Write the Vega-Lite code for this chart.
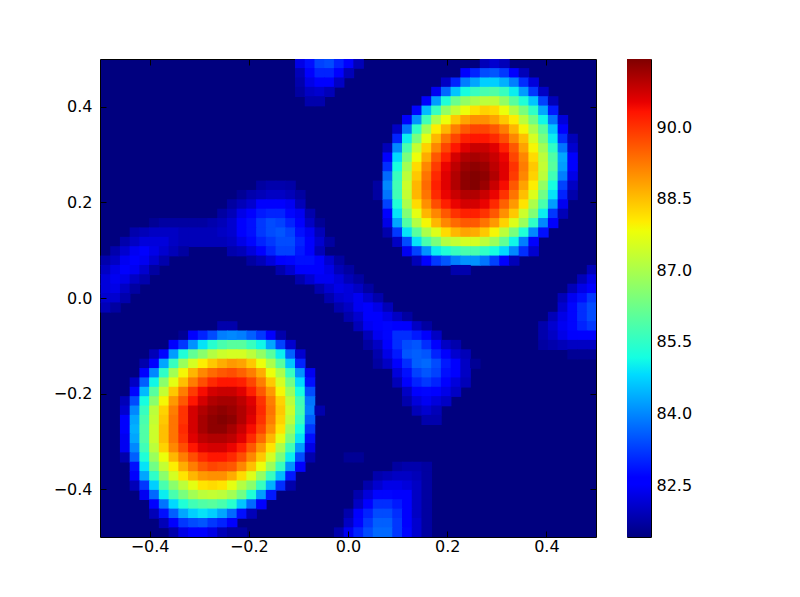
{
  "$schema": "https://vega.github.io/schema/vega-lite/v6.json",
  "padding": {"left": 52, "top": 58, "right": 10, "bottom": 10},
  "background": "white",
  "config": {
    "font": "DejaVu Sans",
    "axis": {"grid": false, "domain": false, "tickColor": "black", "tickWidth": 1, "labelColor": "black", "labelFontSize": 16, "labelFont": "DejaVu Sans", "title": null}
  },
  "spacing": 29,
  "hconcat": [
    {
      "width": 496,
      "height": 478,
      "view": {"fill": "#00007f", "stroke": "black", "strokeWidth": 1},
      "data": {"values": [
{"x":-0.1078,"y":0.4804,"v":82.3},{"x":-0.0882,"y":0.4804,"v":82.8},{"x":-0.0686,"y":0.4804,"v":83.3},{"x":-0.049,"y":0.4804,"v":83.4},{"x":-0.0294,"y":0.4804,"v":83},{"x":-0.0098,"y":0.4804,"v":82.5},{"x":0.0098,"y":0.4804,"v":81.9},{"x":0.2647,"y":0.4804,"v":81.9},{"x":0.2843,"y":0.4804,"v":82.1},{"x":0.3039,"y":0.4804,"v":81.9},
{"x":-0.1078,"y":0.4608,"v":81.9},{"x":-0.0882,"y":0.4608,"v":82.5},{"x":-0.0686,"y":0.4608,"v":83},{"x":-0.049,"y":0.4608,"v":83},{"x":-0.0294,"y":0.4608,"v":82.6},{"x":-0.0098,"y":0.4608,"v":81.9},{"x":0.2255,"y":0.4608,"v":82.5},{"x":0.2451,"y":0.4608,"v":83},{"x":0.2647,"y":0.4608,"v":83.4},{"x":0.2843,"y":0.4608,"v":83.5},{"x":0.3039,"y":0.4608,"v":83.2},{"x":0.3235,"y":0.4608,"v":82.5},{"x":0.3431,"y":0.4608,"v":81.9},
{"x":-0.1078,"y":0.4412,"v":81.8},{"x":-0.0882,"y":0.4412,"v":82.3},{"x":-0.0686,"y":0.4412,"v":82.6},{"x":-0.049,"y":0.4412,"v":82.6},{"x":-0.0294,"y":0.4412,"v":82},{"x":0.1863,"y":0.4412,"v":82},{"x":0.2059,"y":0.4412,"v":83},{"x":0.2255,"y":0.4412,"v":83.9},{"x":0.2451,"y":0.4412,"v":84.3},{"x":0.2647,"y":0.4412,"v":84.7},{"x":0.2843,"y":0.4412,"v":84.7},{"x":0.3039,"y":0.4412,"v":84.4},{"x":0.3235,"y":0.4412,"v":83.9},{"x":0.3431,"y":0.4412,"v":83.1},{"x":0.3627,"y":0.4412,"v":82.2},
{"x":-0.1078,"y":0.4216,"v":81.7},{"x":-0.0882,"y":0.4216,"v":82},{"x":-0.0686,"y":0.4216,"v":82.1},{"x":-0.049,"y":0.4216,"v":81.9},{"x":0.1667,"y":0.4216,"v":82.4},{"x":0.1863,"y":0.4216,"v":83.7},{"x":0.2059,"y":0.4216,"v":84.6},{"x":0.2255,"y":0.4216,"v":85.2},{"x":0.2451,"y":0.4216,"v":85.6},{"x":0.2647,"y":0.4216,"v":85.8},{"x":0.2843,"y":0.4216,"v":85.9},{"x":0.3039,"y":0.4216,"v":85.6},{"x":0.3235,"y":0.4216,"v":85},{"x":0.3431,"y":0.4216,"v":84.2},{"x":0.3627,"y":0.4216,"v":83.2},{"x":0.3824,"y":0.4216,"v":82},
{"x":-0.0882,"y":0.402,"v":81.8},{"x":-0.0686,"y":0.402,"v":81.8},{"x":0.1471,"y":0.402,"v":82.5},{"x":0.1667,"y":0.402,"v":84.2},{"x":0.1863,"y":0.402,"v":85.3},{"x":0.2059,"y":0.402,"v":86.2},{"x":0.2255,"y":0.402,"v":86.7},{"x":0.2451,"y":0.402,"v":87},{"x":0.2647,"y":0.402,"v":87.2},{"x":0.2843,"y":0.402,"v":87.2},{"x":0.3039,"y":0.402,"v":86.7},{"x":0.3235,"y":0.402,"v":86},{"x":0.3431,"y":0.402,"v":85.3},{"x":0.3627,"y":0.402,"v":84.6},{"x":0.3824,"y":0.402,"v":83.3},{"x":0.402,"y":0.402,"v":81.9},
{"x":0.1275,"y":0.3824,"v":82.7},{"x":0.1471,"y":0.3824,"v":84.5},{"x":0.1667,"y":0.3824,"v":85.6},{"x":0.1863,"y":0.3824,"v":86.7},{"x":0.2059,"y":0.3824,"v":87.3},{"x":0.2255,"y":0.3824,"v":87.8},{"x":0.2451,"y":0.3824,"v":88.1},{"x":0.2647,"y":0.3824,"v":88.3},{"x":0.2843,"y":0.3824,"v":88.2},{"x":0.3039,"y":0.3824,"v":87.8},{"x":0.3235,"y":0.3824,"v":87.1},{"x":0.3431,"y":0.3824,"v":86.4},{"x":0.3627,"y":0.3824,"v":85.5},{"x":0.3824,"y":0.3824,"v":84.3},{"x":0.402,"y":0.3824,"v":82.9},
{"x":0.1078,"y":0.3627,"v":82.5},{"x":0.1275,"y":0.3627,"v":84.1},{"x":0.1471,"y":0.3627,"v":85.7},{"x":0.1667,"y":0.3627,"v":87},{"x":0.1863,"y":0.3627,"v":87.8},{"x":0.2059,"y":0.3627,"v":88.4},{"x":0.2255,"y":0.3627,"v":88.8},{"x":0.2451,"y":0.3627,"v":89},{"x":0.2647,"y":0.3627,"v":89},{"x":0.2843,"y":0.3627,"v":88.8},{"x":0.3039,"y":0.3627,"v":88.4},{"x":0.3235,"y":0.3627,"v":88},{"x":0.3431,"y":0.3627,"v":87.2},{"x":0.3627,"y":0.3627,"v":86.3},{"x":0.3824,"y":0.3627,"v":85.1},{"x":0.402,"y":0.3627,"v":83.8},{"x":0.4216,"y":0.3627,"v":82.2},
{"x":0.0882,"y":0.3431,"v":82},{"x":0.1078,"y":0.3431,"v":83.8},{"x":0.1275,"y":0.3431,"v":85.5},{"x":0.1471,"y":0.3431,"v":86.9},{"x":0.1667,"y":0.3431,"v":88},{"x":0.1863,"y":0.3431,"v":88.6},{"x":0.2059,"y":0.3431,"v":89.2},{"x":0.2255,"y":0.3431,"v":89.6},{"x":0.2451,"y":0.3431,"v":89.8},{"x":0.2647,"y":0.3431,"v":89.8},{"x":0.2843,"y":0.3431,"v":89.6},{"x":0.3039,"y":0.3431,"v":89.2},{"x":0.3235,"y":0.3431,"v":88.6},{"x":0.3431,"y":0.3431,"v":87.9},{"x":0.3627,"y":0.3431,"v":87},{"x":0.3824,"y":0.3431,"v":86},{"x":0.402,"y":0.3431,"v":84.6},{"x":0.4216,"y":0.3431,"v":82.6},
{"x":0.0882,"y":0.3235,"v":83},{"x":0.1078,"y":0.3235,"v":85},{"x":0.1275,"y":0.3235,"v":86.4},{"x":0.1471,"y":0.3235,"v":87.7},{"x":0.1667,"y":0.3235,"v":88.6},{"x":0.1863,"y":0.3235,"v":89.3},{"x":0.2059,"y":0.3235,"v":89.8},{"x":0.2255,"y":0.3235,"v":90.2},{"x":0.2451,"y":0.3235,"v":90.3},{"x":0.2647,"y":0.3235,"v":90.3},{"x":0.2843,"y":0.3235,"v":90.1},{"x":0.3039,"y":0.3235,"v":89.7},{"x":0.3235,"y":0.3235,"v":89.1},{"x":0.3431,"y":0.3235,"v":88.5},{"x":0.3627,"y":0.3235,"v":87.5},{"x":0.3824,"y":0.3235,"v":86.4},{"x":0.402,"y":0.3235,"v":85},{"x":0.4216,"y":0.3235,"v":83.1},{"x":0.4412,"y":0.3235,"v":81.9},
{"x":0.0686,"y":0.3039,"v":81.9},{"x":0.0882,"y":0.3039,"v":84},{"x":0.1078,"y":0.3039,"v":85.8},{"x":0.1275,"y":0.3039,"v":87.3},{"x":0.1471,"y":0.3039,"v":88.3},{"x":0.1667,"y":0.3039,"v":89.1},{"x":0.1863,"y":0.3039,"v":89.8},{"x":0.2059,"y":0.3039,"v":90.3},{"x":0.2255,"y":0.3039,"v":90.6},{"x":0.2451,"y":0.3039,"v":90.8},{"x":0.2647,"y":0.3039,"v":90.8},{"x":0.2843,"y":0.3039,"v":90.6},{"x":0.3039,"y":0.3039,"v":90.2},{"x":0.3235,"y":0.3039,"v":89.6},{"x":0.3431,"y":0.3039,"v":88.8},{"x":0.3627,"y":0.3039,"v":87.9},{"x":0.3824,"y":0.3039,"v":86.9},{"x":0.402,"y":0.3039,"v":85.5},{"x":0.4216,"y":0.3039,"v":83.8},{"x":0.4412,"y":0.3039,"v":82.1},
{"x":0.0686,"y":0.2843,"v":82.5},{"x":0.0882,"y":0.2843,"v":84.8},{"x":0.1078,"y":0.2843,"v":86.4},{"x":0.1275,"y":0.2843,"v":87.8},{"x":0.1471,"y":0.2843,"v":88.7},{"x":0.1667,"y":0.2843,"v":89.6},{"x":0.1863,"y":0.2843,"v":90.2},{"x":0.2059,"y":0.2843,"v":90.7},{"x":0.2255,"y":0.2843,"v":91},{"x":0.2451,"y":0.2843,"v":91.1},{"x":0.2647,"y":0.2843,"v":91},{"x":0.2843,"y":0.2843,"v":90.8},{"x":0.3039,"y":0.2843,"v":90.5},{"x":0.3235,"y":0.2843,"v":89.8},{"x":0.3431,"y":0.2843,"v":89.1},{"x":0.3627,"y":0.2843,"v":88.2},{"x":0.3824,"y":0.2843,"v":87.2},{"x":0.402,"y":0.2843,"v":85.9},{"x":0.4216,"y":0.2843,"v":84.3},{"x":0.4412,"y":0.2843,"v":82.5},
{"x":0.0686,"y":0.2647,"v":83.1},{"x":0.0882,"y":0.2647,"v":85.2},{"x":0.1078,"y":0.2647,"v":86.9},{"x":0.1275,"y":0.2647,"v":88.2},{"x":0.1471,"y":0.2647,"v":89.1},{"x":0.1667,"y":0.2647,"v":89.9},{"x":0.1863,"y":0.2647,"v":90.5},{"x":0.2059,"y":0.2647,"v":90.9},{"x":0.2255,"y":0.2647,"v":91.2},{"x":0.2451,"y":0.2647,"v":91.3},{"x":0.2647,"y":0.2647,"v":91.2},{"x":0.2843,"y":0.2647,"v":90.9},{"x":0.3039,"y":0.2647,"v":90.6},{"x":0.3235,"y":0.2647,"v":90},{"x":0.3431,"y":0.2647,"v":89.2},{"x":0.3627,"y":0.2647,"v":88.4},{"x":0.3824,"y":0.2647,"v":87.3},{"x":0.402,"y":0.2647,"v":86},{"x":0.4216,"y":0.2647,"v":84.2},{"x":0.4412,"y":0.2647,"v":82.5},
{"x":0.0686,"y":0.2451,"v":83.7},{"x":0.0882,"y":0.2451,"v":85.6},{"x":0.1078,"y":0.2451,"v":87.2},{"x":0.1275,"y":0.2451,"v":88.4},{"x":0.1471,"y":0.2451,"v":89.3},{"x":0.1667,"y":0.2451,"v":90.1},{"x":0.1863,"y":0.2451,"v":90.6},{"x":0.2059,"y":0.2451,"v":91},{"x":0.2255,"y":0.2451,"v":91.3},{"x":0.2451,"y":0.2451,"v":91.4},{"x":0.2647,"y":0.2451,"v":91.3},{"x":0.2843,"y":0.2451,"v":91},{"x":0.3039,"y":0.2451,"v":90.6},{"x":0.3235,"y":0.2451,"v":89.9},{"x":0.3431,"y":0.2451,"v":89.1},{"x":0.3627,"y":0.2451,"v":88.3},{"x":0.3824,"y":0.2451,"v":87.2},{"x":0.402,"y":0.2451,"v":85.7},{"x":0.4216,"y":0.2451,"v":83.9},{"x":0.4412,"y":0.2451,"v":82.3},
{"x":0.049,"y":0.2255,"v":81.7},{"x":0.0686,"y":0.2255,"v":84},{"x":0.0882,"y":0.2255,"v":85.7},{"x":0.1078,"y":0.2255,"v":87.4},{"x":0.1275,"y":0.2255,"v":88.6},{"x":0.1471,"y":0.2255,"v":89.4},{"x":0.1667,"y":0.2255,"v":90.2},{"x":0.1863,"y":0.2255,"v":90.6},{"x":0.2059,"y":0.2255,"v":91},{"x":0.2255,"y":0.2255,"v":91.3},{"x":0.2451,"y":0.2255,"v":91.4},{"x":0.2647,"y":0.2255,"v":91.2},{"x":0.2843,"y":0.2255,"v":90.8},{"x":0.3039,"y":0.2255,"v":90.4},{"x":0.3235,"y":0.2255,"v":89.6},{"x":0.3431,"y":0.2255,"v":88.8},{"x":0.3627,"y":0.2255,"v":88},{"x":0.3824,"y":0.2255,"v":86.7},{"x":0.402,"y":0.2255,"v":85.2},{"x":0.4216,"y":0.2255,"v":83.3},{"x":0.4412,"y":0.2255,"v":82},
{"x":0.049,"y":0.2059,"v":81.7},{"x":0.0686,"y":0.2059,"v":83.8},{"x":0.0882,"y":0.2059,"v":85.7},{"x":0.1078,"y":0.2059,"v":87.3},{"x":0.1275,"y":0.2059,"v":88.6},{"x":0.1471,"y":0.2059,"v":89.3},{"x":0.1667,"y":0.2059,"v":90.1},{"x":0.1863,"y":0.2059,"v":90.5},{"x":0.2059,"y":0.2059,"v":90.8},{"x":0.2255,"y":0.2059,"v":91},{"x":0.2451,"y":0.2059,"v":91},{"x":0.2647,"y":0.2059,"v":90.8},{"x":0.2843,"y":0.2059,"v":90.5},{"x":0.3039,"y":0.2059,"v":90},{"x":0.3235,"y":0.2059,"v":89.3},{"x":0.3431,"y":0.2059,"v":88.5},{"x":0.3627,"y":0.2059,"v":87.6},{"x":0.3824,"y":0.2059,"v":86.3},{"x":0.402,"y":0.2059,"v":84.9},{"x":0.4216,"y":0.2059,"v":83},{"x":0.4412,"y":0.2059,"v":81.8},
{"x":0.0686,"y":0.1863,"v":83.3},{"x":0.0882,"y":0.1863,"v":85.3},{"x":0.1078,"y":0.1863,"v":87},{"x":0.1275,"y":0.1863,"v":88.2},{"x":0.1471,"y":0.1863,"v":89},{"x":0.1667,"y":0.1863,"v":89.7},{"x":0.1863,"y":0.1863,"v":90.2},{"x":0.2059,"y":0.1863,"v":90.5},{"x":0.2255,"y":0.1863,"v":90.7},{"x":0.2451,"y":0.1863,"v":90.7},{"x":0.2647,"y":0.1863,"v":90.5},{"x":0.2843,"y":0.1863,"v":90.1},{"x":0.3039,"y":0.1863,"v":89.5},{"x":0.3235,"y":0.1863,"v":88.9},{"x":0.3431,"y":0.1863,"v":88.1},{"x":0.3627,"y":0.1863,"v":87},{"x":0.3824,"y":0.1863,"v":85.8},{"x":0.402,"y":0.1863,"v":84.2},{"x":0.4216,"y":0.1863,"v":82.4},
{"x":0.0686,"y":0.1667,"v":82.6},{"x":0.0882,"y":0.1667,"v":84.9},{"x":0.1078,"y":0.1667,"v":86.5},{"x":0.1275,"y":0.1667,"v":87.7},{"x":0.1471,"y":0.1667,"v":88.6},{"x":0.1667,"y":0.1667,"v":89.1},{"x":0.1863,"y":0.1667,"v":89.6},{"x":0.2059,"y":0.1667,"v":90},{"x":0.2255,"y":0.1667,"v":90.2},{"x":0.2451,"y":0.1667,"v":90.2},{"x":0.2647,"y":0.1667,"v":90},{"x":0.2843,"y":0.1667,"v":89.6},{"x":0.3039,"y":0.1667,"v":89},{"x":0.3235,"y":0.1667,"v":88.4},{"x":0.3431,"y":0.1667,"v":87.4},{"x":0.3627,"y":0.1667,"v":86.5},{"x":0.3824,"y":0.1667,"v":85},{"x":0.402,"y":0.1667,"v":83.2},{"x":0.4216,"y":0.1667,"v":81.9},
{"x":0.0686,"y":0.1471,"v":82.3},{"x":0.0882,"y":0.1471,"v":84.3},{"x":0.1078,"y":0.1471,"v":85.9},{"x":0.1275,"y":0.1471,"v":87.1},{"x":0.1471,"y":0.1471,"v":87.9},{"x":0.1667,"y":0.1471,"v":88.6},{"x":0.1863,"y":0.1471,"v":89.1},{"x":0.2059,"y":0.1471,"v":89.4},{"x":0.2255,"y":0.1471,"v":89.6},{"x":0.2451,"y":0.1471,"v":89.6},{"x":0.2647,"y":0.1471,"v":89.3},{"x":0.2843,"y":0.1471,"v":88.9},{"x":0.3039,"y":0.1471,"v":88.3},{"x":0.3235,"y":0.1471,"v":87.6},{"x":0.3431,"y":0.1471,"v":86.8},{"x":0.3627,"y":0.1471,"v":85.5},{"x":0.3824,"y":0.1471,"v":84},{"x":0.402,"y":0.1471,"v":82.5},
{"x":0.0686,"y":0.1275,"v":81.8},{"x":0.0882,"y":0.1275,"v":83.2},{"x":0.1078,"y":0.1275,"v":84.9},{"x":0.1275,"y":0.1275,"v":86},{"x":0.1471,"y":0.1275,"v":87},{"x":0.1667,"y":0.1275,"v":87.6},{"x":0.1863,"y":0.1275,"v":88.2},{"x":0.2059,"y":0.1275,"v":88.6},{"x":0.2255,"y":0.1275,"v":88.8},{"x":0.2451,"y":0.1275,"v":88.7},{"x":0.2647,"y":0.1275,"v":88.4},{"x":0.2843,"y":0.1275,"v":87.9},{"x":0.3039,"y":0.1275,"v":87.2},{"x":0.3235,"y":0.1275,"v":86.4},{"x":0.3431,"y":0.1275,"v":85.3},{"x":0.3627,"y":0.1275,"v":84},{"x":0.3824,"y":0.1275,"v":82.8},
{"x":0.0882,"y":0.1078,"v":82},{"x":0.1078,"y":0.1078,"v":83.4},{"x":0.1275,"y":0.1078,"v":84.9},{"x":0.1471,"y":0.1078,"v":85.8},{"x":0.1667,"y":0.1078,"v":86.4},{"x":0.1863,"y":0.1078,"v":87.1},{"x":0.2059,"y":0.1078,"v":87.3},{"x":0.2255,"y":0.1078,"v":87.5},{"x":0.2451,"y":0.1078,"v":87.5},{"x":0.2647,"y":0.1078,"v":87.2},{"x":0.2843,"y":0.1078,"v":86.8},{"x":0.3039,"y":0.1078,"v":86.1},{"x":0.3235,"y":0.1078,"v":85.1},{"x":0.3431,"y":0.1078,"v":83.9},{"x":0.3627,"y":0.1078,"v":82.6},
{"x":0.1078,"y":0.0882,"v":82.4},{"x":0.1275,"y":0.0882,"v":83.3},{"x":0.1471,"y":0.0882,"v":84.1},{"x":0.1667,"y":0.0882,"v":85},{"x":0.1863,"y":0.0882,"v":85.3},{"x":0.2059,"y":0.0882,"v":85.6},{"x":0.2255,"y":0.0882,"v":85.8},{"x":0.2451,"y":0.0882,"v":85.8},{"x":0.2647,"y":0.0882,"v":85.5},{"x":0.2843,"y":0.0882,"v":85.2},{"x":0.3039,"y":0.0882,"v":84.8},{"x":0.3235,"y":0.0882,"v":84},{"x":0.3431,"y":0.0882,"v":83.1},{"x":0.3627,"y":0.0882,"v":82.1},
{"x":0.1275,"y":0.0686,"v":81.9},{"x":0.1471,"y":0.0686,"v":82.5},{"x":0.1667,"y":0.0686,"v":83.2},{"x":0.1863,"y":0.0686,"v":83.5},{"x":0.2059,"y":0.0686,"v":83.9},{"x":0.2255,"y":0.0686,"v":84.1},{"x":0.2451,"y":0.0686,"v":84.1},{"x":0.2647,"y":0.0686,"v":83.8},{"x":0.2843,"y":0.0686,"v":83.3},{"x":0.3039,"y":0.0686,"v":82.6},{"x":0.3235,"y":0.0686,"v":81.9},
{"x":0.2059,"y":0.049,"v":81.8},{"x":0.2255,"y":0.049,"v":81.8},
{"x":-0.1863,"y":0.2255,"v":81.7},{"x":-0.1667,"y":0.2255,"v":81.8},{"x":-0.1471,"y":0.2255,"v":81.8},{"x":-0.1275,"y":0.2255,"v":81.75},
{"x":-0.2255,"y":0.2059,"v":81.6},{"x":-0.2059,"y":0.2059,"v":81.8},{"x":-0.1863,"y":0.2059,"v":81.9},{"x":-0.1667,"y":0.2059,"v":82},{"x":-0.1471,"y":0.2059,"v":82},{"x":-0.1275,"y":0.2059,"v":81.9},{"x":-0.1078,"y":0.2059,"v":81.7},
{"x":-0.2451,"y":0.1863,"v":81.7},{"x":-0.2255,"y":0.1863,"v":81.9},{"x":-0.2059,"y":0.1863,"v":82.1},{"x":-0.1863,"y":0.1863,"v":82.5},{"x":-0.1667,"y":0.1863,"v":82.5},{"x":-0.1471,"y":0.1863,"v":82.5},{"x":-0.1275,"y":0.1863,"v":82.4},{"x":-0.1078,"y":0.1863,"v":81.9},
{"x":-0.2647,"y":0.1667,"v":81.7},{"x":-0.2451,"y":0.1667,"v":81.9},{"x":-0.2255,"y":0.1667,"v":82.3},{"x":-0.2059,"y":0.1667,"v":82.6},{"x":-0.1863,"y":0.1667,"v":82.9},{"x":-0.1667,"y":0.1667,"v":83},{"x":-0.1471,"y":0.1667,"v":83},{"x":-0.1275,"y":0.1667,"v":82.7},{"x":-0.1078,"y":0.1667,"v":82.4},{"x":-0.0882,"y":0.1667,"v":81.8},
{"x":-0.402,"y":0.1471,"v":81.6},{"x":-0.3824,"y":0.1471,"v":81.7},{"x":-0.3627,"y":0.1471,"v":81.7},{"x":-0.3431,"y":0.1471,"v":81.7},{"x":-0.3235,"y":0.1471,"v":81.7},{"x":-0.3039,"y":0.1471,"v":81.7},{"x":-0.2843,"y":0.1471,"v":81.8},{"x":-0.2647,"y":0.1471,"v":81.9},{"x":-0.2451,"y":0.1471,"v":82.1},{"x":-0.2255,"y":0.1471,"v":82.5},{"x":-0.2059,"y":0.1471,"v":82.8},{"x":-0.1863,"y":0.1471,"v":83.2},{"x":-0.1667,"y":0.1471,"v":83.4},{"x":-0.1471,"y":0.1471,"v":83.3},{"x":-0.1275,"y":0.1471,"v":83},{"x":-0.1078,"y":0.1471,"v":82.6},{"x":-0.0882,"y":0.1471,"v":82},{"x":-0.0686,"y":0.1471,"v":81.6},
{"x":-0.4412,"y":0.1275,"v":81.8},{"x":-0.4216,"y":0.1275,"v":81.9},{"x":-0.402,"y":0.1275,"v":82},{"x":-0.3824,"y":0.1275,"v":82},{"x":-0.3627,"y":0.1275,"v":82},{"x":-0.3431,"y":0.1275,"v":81.9},{"x":-0.3235,"y":0.1275,"v":81.9},{"x":-0.3039,"y":0.1275,"v":81.9},{"x":-0.2843,"y":0.1275,"v":81.9},{"x":-0.2647,"y":0.1275,"v":82},{"x":-0.2451,"y":0.1275,"v":82.1},{"x":-0.2255,"y":0.1275,"v":82.5},{"x":-0.2059,"y":0.1275,"v":82.8},{"x":-0.1863,"y":0.1275,"v":83.2},{"x":-0.1667,"y":0.1275,"v":83.4},{"x":-0.1471,"y":0.1275,"v":83.5},{"x":-0.1275,"y":0.1275,"v":83.3},{"x":-0.1078,"y":0.1275,"v":82.8},{"x":-0.0882,"y":0.1275,"v":82.4},{"x":-0.0686,"y":0.1275,"v":81.9},
{"x":-0.4608,"y":0.1078,"v":81.8},{"x":-0.4412,"y":0.1078,"v":82},{"x":-0.4216,"y":0.1078,"v":82.2},{"x":-0.402,"y":0.1078,"v":82.2},{"x":-0.3824,"y":0.1078,"v":82.2},{"x":-0.3627,"y":0.1078,"v":82},{"x":-0.3431,"y":0.1078,"v":81.9},{"x":-0.3235,"y":0.1078,"v":81.9},{"x":-0.3039,"y":0.1078,"v":81.9},{"x":-0.2843,"y":0.1078,"v":81.9},{"x":-0.2647,"y":0.1078,"v":81.9},{"x":-0.2451,"y":0.1078,"v":82},{"x":-0.2255,"y":0.1078,"v":82.3},{"x":-0.2059,"y":0.1078,"v":82.7},{"x":-0.1863,"y":0.1078,"v":83},{"x":-0.1667,"y":0.1078,"v":83.2},{"x":-0.1471,"y":0.1078,"v":83.4},{"x":-0.1275,"y":0.1078,"v":83.4},{"x":-0.1078,"y":0.1078,"v":83},{"x":-0.0882,"y":0.1078,"v":82.5},{"x":-0.0686,"y":0.1078,"v":82.1},{"x":-0.049,"y":0.1078,"v":81.7},
{"x":-0.4804,"y":0.0882,"v":81.8},{"x":-0.4608,"y":0.0882,"v":82.1},{"x":-0.4412,"y":0.0882,"v":82.4},{"x":-0.4216,"y":0.0882,"v":82.5},{"x":-0.402,"y":0.0882,"v":82.3},{"x":-0.3824,"y":0.0882,"v":82.1},{"x":-0.3627,"y":0.0882,"v":81.9},{"x":-0.3431,"y":0.0882,"v":81.7},{"x":-0.2451,"y":0.0882,"v":81.8},{"x":-0.2255,"y":0.0882,"v":81.9},{"x":-0.2059,"y":0.0882,"v":82.2},{"x":-0.1863,"y":0.0882,"v":82.6},{"x":-0.1667,"y":0.0882,"v":83},{"x":-0.1471,"y":0.0882,"v":83.3},{"x":-0.1275,"y":0.0882,"v":83.3},{"x":-0.1078,"y":0.0882,"v":82.9},{"x":-0.0882,"y":0.0882,"v":82.5},{"x":-0.0686,"y":0.0882,"v":81.9},
{"x":-0.5,"y":0.0686,"v":81.8},{"x":-0.4804,"y":0.0686,"v":82},{"x":-0.4608,"y":0.0686,"v":82.4},{"x":-0.4412,"y":0.0686,"v":82.5},{"x":-0.4216,"y":0.0686,"v":82.4},{"x":-0.402,"y":0.0686,"v":82.1},{"x":-0.3824,"y":0.0686,"v":81.8},{"x":-0.2059,"y":0.0686,"v":81.7},{"x":-0.1863,"y":0.0686,"v":81.9},{"x":-0.1667,"y":0.0686,"v":82.2},{"x":-0.1471,"y":0.0686,"v":82.6},{"x":-0.1275,"y":0.0686,"v":82.7},{"x":-0.1078,"y":0.0686,"v":82.8},{"x":-0.0882,"y":0.0686,"v":82.8},{"x":-0.0686,"y":0.0686,"v":82.5},{"x":-0.049,"y":0.0686,"v":82.1},{"x":-0.0294,"y":0.0686,"v":81.7},
{"x":-0.5,"y":0.049,"v":82},{"x":-0.4804,"y":0.049,"v":82.3},{"x":-0.4608,"y":0.049,"v":82.5},{"x":-0.4412,"y":0.049,"v":82.4},{"x":-0.4216,"y":0.049,"v":82.1},{"x":-0.402,"y":0.049,"v":81.7},{"x":-0.1471,"y":0.049,"v":81.8},{"x":-0.1275,"y":0.049,"v":82.1},{"x":-0.1078,"y":0.049,"v":82.5},{"x":-0.0882,"y":0.049,"v":82.6},{"x":-0.0686,"y":0.049,"v":82.5},{"x":-0.049,"y":0.049,"v":82.3},{"x":-0.0294,"y":0.049,"v":81.9},{"x":-0.0098,"y":0.049,"v":81.7},{"x":0.4804,"y":0.049,"v":81.9},
{"x":-0.5,"y":0.0294,"v":82.2},{"x":-0.4804,"y":0.0294,"v":82.4},{"x":-0.4608,"y":0.0294,"v":82.3},{"x":-0.4412,"y":0.0294,"v":82},{"x":-0.4216,"y":0.0294,"v":81.8},{"x":-0.1078,"y":0.0294,"v":81.8},{"x":-0.0882,"y":0.0294,"v":82.1},{"x":-0.0686,"y":0.0294,"v":82.4},{"x":-0.049,"y":0.0294,"v":82.4},{"x":-0.0294,"y":0.0294,"v":82.2},{"x":-0.0098,"y":0.0294,"v":81.9},{"x":0.0098,"y":0.0294,"v":81.7},{"x":0.4608,"y":0.0294,"v":81.9},{"x":0.4804,"y":0.0294,"v":82.3},
{"x":-0.5,"y":0.0098,"v":82.2},{"x":-0.4804,"y":0.0098,"v":82.3},{"x":-0.4608,"y":0.0098,"v":82},{"x":-0.4412,"y":0.0098,"v":81.7},{"x":-0.0686,"y":0.0098,"v":81.8},{"x":-0.049,"y":0.0098,"v":82.1},{"x":-0.0294,"y":0.0098,"v":82.3},{"x":-0.0098,"y":0.0098,"v":82.2},{"x":0.0098,"y":0.0098,"v":82},{"x":0.0294,"y":0.0098,"v":81.7},{"x":0.4412,"y":0.0098,"v":81.9},{"x":0.4608,"y":0.0098,"v":82.3},{"x":0.4804,"y":0.0098,"v":82.6},
{"x":-0.5,"y":-0.0098,"v":82.1},{"x":-0.4804,"y":-0.0098,"v":82.1},{"x":-0.4608,"y":-0.0098,"v":81.8},{"x":-0.049,"y":-0.0098,"v":81.8},{"x":-0.0294,"y":-0.0098,"v":82.1},{"x":-0.0098,"y":-0.0098,"v":82.2},{"x":0.0098,"y":-0.0098,"v":82.4},{"x":0.0294,"y":-0.0098,"v":82.1},{"x":0.049,"y":-0.0098,"v":81.8},{"x":0.4216,"y":-0.0098,"v":81.9},{"x":0.4412,"y":-0.0098,"v":82.4},{"x":0.4608,"y":-0.0098,"v":82.8},{"x":0.4804,"y":-0.0098,"v":83.2},
{"x":-0.5,"y":-0.0294,"v":81.9},{"x":-0.4804,"y":-0.0294,"v":81.7},{"x":-0.0294,"y":-0.0294,"v":81.8},{"x":-0.0098,"y":-0.0294,"v":82},{"x":0.0098,"y":-0.0294,"v":82.4},{"x":0.0294,"y":-0.0294,"v":82.5},{"x":0.049,"y":-0.0294,"v":82.3},{"x":0.0686,"y":-0.0294,"v":81.9},{"x":0.4216,"y":-0.0294,"v":82.1},{"x":0.4412,"y":-0.0294,"v":82.7},{"x":0.4608,"y":-0.0294,"v":83.1},{"x":0.4804,"y":-0.0294,"v":83.4},
{"x":-0.0098,"y":-0.049,"v":81.8},{"x":0.0098,"y":-0.049,"v":82.1},{"x":0.0294,"y":-0.049,"v":82.5},{"x":0.049,"y":-0.049,"v":82.5},{"x":0.0686,"y":-0.049,"v":82.3},{"x":0.0882,"y":-0.049,"v":82},{"x":0.1078,"y":-0.049,"v":81.7},{"x":0.402,"y":-0.049,"v":81.9},{"x":0.4216,"y":-0.049,"v":82.3},{"x":0.4412,"y":-0.049,"v":82.7},{"x":0.4608,"y":-0.049,"v":83.1},{"x":0.4804,"y":-0.049,"v":83.4},
{"x":0.0098,"y":-0.0686,"v":81.9},{"x":0.0294,"y":-0.0686,"v":82.4},{"x":0.049,"y":-0.0686,"v":82.5},{"x":0.0686,"y":-0.0686,"v":82.7},{"x":0.0882,"y":-0.0686,"v":82.6},{"x":0.1078,"y":-0.0686,"v":82.5},{"x":0.1275,"y":-0.0686,"v":82},{"x":0.1471,"y":-0.0686,"v":81.7},{"x":0.3824,"y":-0.0686,"v":81.8},{"x":0.402,"y":-0.0686,"v":82.1},{"x":0.4216,"y":-0.0686,"v":82.4},{"x":0.4412,"y":-0.0686,"v":82.7},{"x":0.4608,"y":-0.0686,"v":83},{"x":0.4804,"y":-0.0686,"v":83.2},
{"x":-0.2647,"y":-0.0686,"v":81.8},{"x":-0.2451,"y":-0.0686,"v":81.8},
{"x":0.0294,"y":-0.0882,"v":81.9},{"x":0.049,"y":-0.0882,"v":82.4},{"x":0.0686,"y":-0.0882,"v":82.7},{"x":0.0882,"y":-0.0882,"v":83.1},{"x":0.1078,"y":-0.0882,"v":83.1},{"x":0.1275,"y":-0.0882,"v":82.9},{"x":0.1471,"y":-0.0882,"v":82.5},{"x":0.1667,"y":-0.0882,"v":82},{"x":0.3824,"y":-0.0882,"v":81.8},{"x":0.402,"y":-0.0882,"v":82},{"x":0.4216,"y":-0.0882,"v":82.3},{"x":0.4412,"y":-0.0882,"v":82.5},{"x":0.4608,"y":-0.0882,"v":82.6},{"x":0.4804,"y":-0.0882,"v":82.6},
{"x":-0.3431,"y":-0.0882,"v":81.6},{"x":-0.3235,"y":-0.0882,"v":82.5},{"x":-0.3039,"y":-0.0882,"v":83},{"x":-0.2843,"y":-0.0882,"v":83.4},{"x":-0.2647,"y":-0.0882,"v":83.9},{"x":-0.2451,"y":-0.0882,"v":84},{"x":-0.2255,"y":-0.0882,"v":83.9},{"x":-0.2059,"y":-0.0882,"v":83.6},{"x":-0.1863,"y":-0.0882,"v":83.2},{"x":-0.1667,"y":-0.0882,"v":82.5},{"x":-0.1471,"y":-0.0882,"v":81.8},
{"x":0.0294,"y":-0.1078,"v":81.7},{"x":0.049,"y":-0.1078,"v":82},{"x":0.0686,"y":-0.1078,"v":82.6},{"x":0.0882,"y":-0.1078,"v":83.1},{"x":0.1078,"y":-0.1078,"v":83.4},{"x":0.1275,"y":-0.1078,"v":83.5},{"x":0.1471,"y":-0.1078,"v":83.1},{"x":0.1667,"y":-0.1078,"v":82.6},{"x":0.1863,"y":-0.1078,"v":82},{"x":0.2059,"y":-0.1078,"v":81.8},{"x":0.3824,"y":-0.1078,"v":81.7},{"x":0.402,"y":-0.1078,"v":81.8},{"x":0.4216,"y":-0.1078,"v":81.9},{"x":0.4412,"y":-0.1078,"v":82},{"x":0.4608,"y":-0.1078,"v":82},{"x":0.4804,"y":-0.1078,"v":82},
{"x":-0.3627,"y":-0.1078,"v":82.5},{"x":-0.3431,"y":-0.1078,"v":83.2},{"x":-0.3235,"y":-0.1078,"v":84.1},{"x":-0.3039,"y":-0.1078,"v":84.9},{"x":-0.2843,"y":-0.1078,"v":85.4},{"x":-0.2647,"y":-0.1078,"v":85.8},{"x":-0.2451,"y":-0.1078,"v":86},{"x":-0.2255,"y":-0.1078,"v":86},{"x":-0.2059,"y":-0.1078,"v":85.6},{"x":-0.1863,"y":-0.1078,"v":85.1},{"x":-0.1667,"y":-0.1078,"v":84.3},{"x":-0.1471,"y":-0.1078,"v":83.3},{"x":-0.1275,"y":-0.1078,"v":82.1},
{"x":0.049,"y":-0.1275,"v":81.8},{"x":0.0686,"y":-0.1275,"v":82.3},{"x":0.0882,"y":-0.1275,"v":82.9},{"x":0.1078,"y":-0.1275,"v":83.5},{"x":0.1275,"y":-0.1275,"v":83.6},{"x":0.1471,"y":-0.1275,"v":83.5},{"x":0.1667,"y":-0.1275,"v":83},{"x":0.1863,"y":-0.1275,"v":82.5},{"x":0.2059,"y":-0.1275,"v":82.1},{"x":0.2255,"y":-0.1275,"v":81.9},{"x":0.4412,"y":-0.1275,"v":81.6},{"x":0.4608,"y":-0.1275,"v":81.6},{"x":0.4804,"y":-0.1275,"v":81.6},
{"x":-0.402,"y":-0.1275,"v":81.9},{"x":-0.3824,"y":-0.1275,"v":82.7},{"x":-0.3627,"y":-0.1275,"v":84.2},{"x":-0.3431,"y":-0.1275,"v":85.3},{"x":-0.3235,"y":-0.1275,"v":86.1},{"x":-0.3039,"y":-0.1275,"v":86.6},{"x":-0.2843,"y":-0.1275,"v":87.1},{"x":-0.2647,"y":-0.1275,"v":87.4},{"x":-0.2451,"y":-0.1275,"v":87.5},{"x":-0.2255,"y":-0.1275,"v":87.5},{"x":-0.2059,"y":-0.1275,"v":87.2},{"x":-0.1863,"y":-0.1275,"v":86.7},{"x":-0.1667,"y":-0.1275,"v":86},{"x":-0.1471,"y":-0.1275,"v":85},{"x":-0.1275,"y":-0.1275,"v":83.6},{"x":-0.1078,"y":-0.1275,"v":82.1},
{"x":0.049,"y":-0.1471,"v":81.7},{"x":0.0686,"y":-0.1471,"v":82},{"x":0.0882,"y":-0.1471,"v":82.5},{"x":0.1078,"y":-0.1471,"v":83.1},{"x":0.1275,"y":-0.1471,"v":83.6},{"x":0.1471,"y":-0.1471,"v":83.7},{"x":0.1667,"y":-0.1471,"v":83.4},{"x":0.1863,"y":-0.1471,"v":82.9},{"x":0.2059,"y":-0.1471,"v":82.5},{"x":0.2255,"y":-0.1471,"v":82},{"x":0.2451,"y":-0.1471,"v":81.6},
{"x":-0.4216,"y":-0.1471,"v":81.8},{"x":-0.402,"y":-0.1471,"v":82.6},{"x":-0.3824,"y":-0.1471,"v":84.3},{"x":-0.3627,"y":-0.1471,"v":85.6},{"x":-0.3431,"y":-0.1471,"v":86.8},{"x":-0.3235,"y":-0.1471,"v":87.5},{"x":-0.3039,"y":-0.1471,"v":88},{"x":-0.2843,"y":-0.1471,"v":88.4},{"x":-0.2647,"y":-0.1471,"v":88.7},{"x":-0.2451,"y":-0.1471,"v":88.9},{"x":-0.2255,"y":-0.1471,"v":88.8},{"x":-0.2059,"y":-0.1471,"v":88.4},{"x":-0.1863,"y":-0.1471,"v":87.8},{"x":-0.1667,"y":-0.1471,"v":87},{"x":-0.1471,"y":-0.1471,"v":86},{"x":-0.1275,"y":-0.1471,"v":84.6},{"x":-0.1078,"y":-0.1471,"v":83},
{"x":0.0882,"y":-0.1667,"v":82.2},{"x":0.1078,"y":-0.1667,"v":82.8},{"x":0.1275,"y":-0.1667,"v":83.3},{"x":0.1471,"y":-0.1667,"v":83.5},{"x":0.1667,"y":-0.1667,"v":83.3},{"x":0.1863,"y":-0.1667,"v":82.8},{"x":0.2059,"y":-0.1667,"v":82.5},{"x":0.2255,"y":-0.1667,"v":82},
{"x":-0.4216,"y":-0.1667,"v":82.6},{"x":-0.402,"y":-0.1667,"v":84},{"x":-0.3824,"y":-0.1667,"v":85.5},{"x":-0.3627,"y":-0.1667,"v":86.9},{"x":-0.3431,"y":-0.1667,"v":87.9},{"x":-0.3235,"y":-0.1667,"v":88.6},{"x":-0.3039,"y":-0.1667,"v":89.1},{"x":-0.2843,"y":-0.1667,"v":89.4},{"x":-0.2647,"y":-0.1667,"v":89.6},{"x":-0.2451,"y":-0.1667,"v":89.7},{"x":-0.2255,"y":-0.1667,"v":89.5},{"x":-0.2059,"y":-0.1667,"v":89.2},{"x":-0.1863,"y":-0.1667,"v":88.7},{"x":-0.1667,"y":-0.1667,"v":87.8},{"x":-0.1471,"y":-0.1667,"v":87},{"x":-0.1275,"y":-0.1667,"v":85.6},{"x":-0.1078,"y":-0.1667,"v":84.1},{"x":-0.0882,"y":-0.1667,"v":82.4},
{"x":0.0882,"y":-0.1863,"v":81.9},{"x":0.1078,"y":-0.1863,"v":82.5},{"x":0.1275,"y":-0.1863,"v":83},{"x":0.1471,"y":-0.1863,"v":83.2},{"x":0.1667,"y":-0.1863,"v":83},{"x":0.1863,"y":-0.1863,"v":82.6},{"x":0.2059,"y":-0.1863,"v":82.2},{"x":0.2255,"y":-0.1863,"v":81.9},
{"x":-0.4412,"y":-0.1863,"v":82},{"x":-0.4216,"y":-0.1863,"v":83.6},{"x":-0.402,"y":-0.1863,"v":85.1},{"x":-0.3824,"y":-0.1863,"v":86.6},{"x":-0.3627,"y":-0.1863,"v":87.7},{"x":-0.3431,"y":-0.1863,"v":88.5},{"x":-0.3235,"y":-0.1863,"v":89.2},{"x":-0.3039,"y":-0.1863,"v":89.7},{"x":-0.2843,"y":-0.1863,"v":90.1},{"x":-0.2647,"y":-0.1863,"v":90.3},{"x":-0.2451,"y":-0.1863,"v":90.3},{"x":-0.2255,"y":-0.1863,"v":90.2},{"x":-0.2059,"y":-0.1863,"v":89.8},{"x":-0.1863,"y":-0.1863,"v":89.2},{"x":-0.1667,"y":-0.1863,"v":88.4},{"x":-0.1471,"y":-0.1863,"v":87.5},{"x":-0.1275,"y":-0.1863,"v":86.3},{"x":-0.1078,"y":-0.1863,"v":84.8},{"x":-0.0882,"y":-0.1863,"v":82.8},
{"x":0.1078,"y":-0.2059,"v":82},{"x":0.1275,"y":-0.2059,"v":82.5},{"x":0.1471,"y":-0.2059,"v":82.7},{"x":0.1667,"y":-0.2059,"v":82.6},{"x":0.1863,"y":-0.2059,"v":82.3},{"x":0.2059,"y":-0.2059,"v":82},
{"x":-0.4412,"y":-0.2059,"v":82.7},{"x":-0.4216,"y":-0.2059,"v":84.5},{"x":-0.402,"y":-0.2059,"v":86},{"x":-0.3824,"y":-0.2059,"v":87.3},{"x":-0.3627,"y":-0.2059,"v":88.4},{"x":-0.3431,"y":-0.2059,"v":89.2},{"x":-0.3235,"y":-0.2059,"v":89.9},{"x":-0.3039,"y":-0.2059,"v":90.4},{"x":-0.2843,"y":-0.2059,"v":90.7},{"x":-0.2647,"y":-0.2059,"v":90.8},{"x":-0.2451,"y":-0.2059,"v":90.8},{"x":-0.2255,"y":-0.2059,"v":90.6},{"x":-0.2059,"y":-0.2059,"v":90.2},{"x":-0.1863,"y":-0.2059,"v":89.6},{"x":-0.1667,"y":-0.2059,"v":88.9},{"x":-0.1471,"y":-0.2059,"v":87.9},{"x":-0.1275,"y":-0.2059,"v":86.8},{"x":-0.1078,"y":-0.2059,"v":85.2},{"x":-0.0882,"y":-0.2059,"v":83.4},
{"x":0.1078,"y":-0.2255,"v":81.8},{"x":0.1275,"y":-0.2255,"v":82.2},{"x":0.1471,"y":-0.2255,"v":82.4},{"x":0.1667,"y":-0.2255,"v":82.2},{"x":0.1863,"y":-0.2255,"v":82},
{"x":-0.4608,"y":-0.2255,"v":81.9},{"x":-0.4412,"y":-0.2255,"v":83.4},{"x":-0.4216,"y":-0.2255,"v":85.2},{"x":-0.402,"y":-0.2255,"v":86.6},{"x":-0.3824,"y":-0.2255,"v":87.9},{"x":-0.3627,"y":-0.2255,"v":88.9},{"x":-0.3431,"y":-0.2255,"v":89.6},{"x":-0.3235,"y":-0.2255,"v":90.3},{"x":-0.3039,"y":-0.2255,"v":90.7},{"x":-0.2843,"y":-0.2255,"v":91},{"x":-0.2647,"y":-0.2255,"v":91.1},{"x":-0.2451,"y":-0.2255,"v":91.1},{"x":-0.2255,"y":-0.2255,"v":90.9},{"x":-0.2059,"y":-0.2255,"v":90.6},{"x":-0.1863,"y":-0.2255,"v":90},{"x":-0.1667,"y":-0.2255,"v":89.2},{"x":-0.1471,"y":-0.2255,"v":88.3},{"x":-0.1275,"y":-0.2255,"v":87.2},{"x":-0.1078,"y":-0.2255,"v":85.7},{"x":-0.0882,"y":-0.2255,"v":83.8},
{"x":0.1275,"y":-0.2451,"v":81.9},{"x":0.1471,"y":-0.2451,"v":82.1},{"x":0.1667,"y":-0.2451,"v":81.9},
{"x":-0.4608,"y":-0.2451,"v":82.1},{"x":-0.4412,"y":-0.2451,"v":84},{"x":-0.4216,"y":-0.2451,"v":85.6},{"x":-0.402,"y":-0.2451,"v":87.2},{"x":-0.3824,"y":-0.2451,"v":88.3},{"x":-0.3627,"y":-0.2451,"v":89.2},{"x":-0.3431,"y":-0.2451,"v":90},{"x":-0.3235,"y":-0.2451,"v":90.7},{"x":-0.3039,"y":-0.2451,"v":91},{"x":-0.2843,"y":-0.2451,"v":91.2},{"x":-0.2647,"y":-0.2451,"v":91.3},{"x":-0.2451,"y":-0.2451,"v":91.2},{"x":-0.2255,"y":-0.2451,"v":91},{"x":-0.2059,"y":-0.2451,"v":90.7},{"x":-0.1863,"y":-0.2451,"v":90.1},{"x":-0.1667,"y":-0.2451,"v":89.3},{"x":-0.1471,"y":-0.2451,"v":88.4},{"x":-0.1275,"y":-0.2451,"v":87.4},{"x":-0.1078,"y":-0.2451,"v":85.8},{"x":-0.0882,"y":-0.2451,"v":83.9},{"x":-0.0686,"y":-0.2451,"v":81.8},
{"x":0.1471,"y":-0.2647,"v":81.8},{"x":0.1667,"y":-0.2647,"v":81.8},
{"x":-0.4608,"y":-0.2647,"v":82.5},{"x":-0.4412,"y":-0.2647,"v":84.3},{"x":-0.4216,"y":-0.2647,"v":85.8},{"x":-0.402,"y":-0.2647,"v":87.3},{"x":-0.3824,"y":-0.2647,"v":88.4},{"x":-0.3627,"y":-0.2647,"v":89.3},{"x":-0.3431,"y":-0.2647,"v":90},{"x":-0.3235,"y":-0.2647,"v":90.7},{"x":-0.3039,"y":-0.2647,"v":91.1},{"x":-0.2843,"y":-0.2647,"v":91.3},{"x":-0.2647,"y":-0.2647,"v":91.4},{"x":-0.2451,"y":-0.2647,"v":91.3},{"x":-0.2255,"y":-0.2647,"v":91},{"x":-0.2059,"y":-0.2647,"v":90.6},{"x":-0.1863,"y":-0.2647,"v":90},{"x":-0.1667,"y":-0.2647,"v":89.2},{"x":-0.1471,"y":-0.2647,"v":88.3},{"x":-0.1275,"y":-0.2647,"v":87.2},{"x":-0.1078,"y":-0.2647,"v":85.6},{"x":-0.0882,"y":-0.2647,"v":83.6},
{"x":-0.4608,"y":-0.2843,"v":82.5},{"x":-0.4412,"y":-0.2843,"v":84.4},{"x":-0.4216,"y":-0.2843,"v":85.9},{"x":-0.402,"y":-0.2843,"v":87.4},{"x":-0.3824,"y":-0.2843,"v":88.5},{"x":-0.3627,"y":-0.2843,"v":89.3},{"x":-0.3431,"y":-0.2843,"v":90.1},{"x":-0.3235,"y":-0.2843,"v":90.7},{"x":-0.3039,"y":-0.2843,"v":91.1},{"x":-0.2843,"y":-0.2843,"v":91.3},{"x":-0.2647,"y":-0.2843,"v":91.3},{"x":-0.2451,"y":-0.2843,"v":91.1},{"x":-0.2255,"y":-0.2843,"v":90.8},{"x":-0.2059,"y":-0.2843,"v":90.4},{"x":-0.1863,"y":-0.2843,"v":89.8},{"x":-0.1667,"y":-0.2843,"v":89},{"x":-0.1471,"y":-0.2843,"v":88.1},{"x":-0.1275,"y":-0.2843,"v":86.8},{"x":-0.1078,"y":-0.2843,"v":85.2},{"x":-0.0882,"y":-0.2843,"v":83.2},
{"x":-0.4608,"y":-0.3039,"v":82.4},{"x":-0.4412,"y":-0.3039,"v":84.3},{"x":-0.4216,"y":-0.3039,"v":85.9},{"x":-0.402,"y":-0.3039,"v":87.4},{"x":-0.3824,"y":-0.3039,"v":88.5},{"x":-0.3627,"y":-0.3039,"v":89.3},{"x":-0.3431,"y":-0.3039,"v":90},{"x":-0.3235,"y":-0.3039,"v":90.6},{"x":-0.3039,"y":-0.3039,"v":90.9},{"x":-0.2843,"y":-0.3039,"v":91},{"x":-0.2647,"y":-0.3039,"v":91},{"x":-0.2451,"y":-0.3039,"v":90.9},{"x":-0.2255,"y":-0.3039,"v":90.6},{"x":-0.2059,"y":-0.3039,"v":90.1},{"x":-0.1863,"y":-0.3039,"v":89.4},{"x":-0.1667,"y":-0.3039,"v":88.6},{"x":-0.1471,"y":-0.3039,"v":87.7},{"x":-0.1275,"y":-0.3039,"v":86.4},{"x":-0.1078,"y":-0.3039,"v":84.9},{"x":-0.0882,"y":-0.3039,"v":82.8},
{"x":-0.4608,"y":-0.3235,"v":82.4},{"x":-0.4412,"y":-0.3235,"v":84},{"x":-0.4216,"y":-0.3235,"v":85.7},{"x":-0.402,"y":-0.3235,"v":87.2},{"x":-0.3824,"y":-0.3235,"v":88.3},{"x":-0.3627,"y":-0.3235,"v":89.1},{"x":-0.3431,"y":-0.3235,"v":89.7},{"x":-0.3235,"y":-0.3235,"v":90.3},{"x":-0.3039,"y":-0.3235,"v":90.6},{"x":-0.2843,"y":-0.3235,"v":90.7},{"x":-0.2647,"y":-0.3235,"v":90.7},{"x":-0.2451,"y":-0.3235,"v":90.5},{"x":-0.2255,"y":-0.3235,"v":90.2},{"x":-0.2059,"y":-0.3235,"v":89.6},{"x":-0.1863,"y":-0.3235,"v":88.9},{"x":-0.1667,"y":-0.3235,"v":88.1},{"x":-0.1471,"y":-0.3235,"v":87},{"x":-0.1275,"y":-0.3235,"v":85.7},{"x":-0.1078,"y":-0.3235,"v":84.2},{"x":-0.0882,"y":-0.3235,"v":82.3},
{"x":-0.4608,"y":-0.3431,"v":81.8},{"x":-0.4412,"y":-0.3431,"v":83.6},{"x":-0.4216,"y":-0.3431,"v":85.3},{"x":-0.402,"y":-0.3431,"v":86.8},{"x":-0.3824,"y":-0.3431,"v":87.8},{"x":-0.3627,"y":-0.3431,"v":88.6},{"x":-0.3431,"y":-0.3431,"v":89.2},{"x":-0.3235,"y":-0.3431,"v":89.7},{"x":-0.3039,"y":-0.3431,"v":90.1},{"x":-0.2843,"y":-0.3431,"v":90.3},{"x":-0.2647,"y":-0.3431,"v":90.3},{"x":-0.2451,"y":-0.3431,"v":90.1},{"x":-0.2255,"y":-0.3431,"v":89.7},{"x":-0.2059,"y":-0.3431,"v":89.1},{"x":-0.1863,"y":-0.3431,"v":88.4},{"x":-0.1667,"y":-0.3431,"v":87.5},{"x":-0.1471,"y":-0.3431,"v":86.4},{"x":-0.1275,"y":-0.3431,"v":85},{"x":-0.1078,"y":-0.3431,"v":83.4},{"x":-0.0882,"y":-0.3431,"v":81.8},
{"x":-0.0098,"y":-0.3431,"v":81.6},{"x":0.0098,"y":-0.3431,"v":81.6},
{"x":-0.4412,"y":-0.3627,"v":82.8},{"x":-0.4216,"y":-0.3627,"v":84.9},{"x":-0.402,"y":-0.3627,"v":86.3},{"x":-0.3824,"y":-0.3627,"v":87.3},{"x":-0.3627,"y":-0.3627,"v":88},{"x":-0.3431,"y":-0.3627,"v":88.7},{"x":-0.3235,"y":-0.3627,"v":89.2},{"x":-0.3039,"y":-0.3627,"v":89.6},{"x":-0.2843,"y":-0.3627,"v":89.8},{"x":-0.2647,"y":-0.3627,"v":89.7},{"x":-0.2451,"y":-0.3627,"v":89.6},{"x":-0.2255,"y":-0.3627,"v":89.1},{"x":-0.2059,"y":-0.3627,"v":88.5},{"x":-0.1863,"y":-0.3627,"v":87.8},{"x":-0.1667,"y":-0.3627,"v":86.8},{"x":-0.1471,"y":-0.3627,"v":85.6},{"x":-0.1275,"y":-0.3627,"v":84.1},{"x":-0.1078,"y":-0.3627,"v":82.5},
{"x":0.0882,"y":-0.3627,"v":81.7},{"x":0.1078,"y":-0.3627,"v":81.8},{"x":0.1275,"y":-0.3627,"v":81.8},{"x":0.1471,"y":-0.3627,"v":81.7},
{"x":-0.4412,"y":-0.3824,"v":82.5},{"x":-0.4216,"y":-0.3824,"v":84.3},{"x":-0.402,"y":-0.3824,"v":85.5},{"x":-0.3824,"y":-0.3824,"v":86.6},{"x":-0.3627,"y":-0.3824,"v":87.5},{"x":-0.3431,"y":-0.3824,"v":88.1},{"x":-0.3235,"y":-0.3824,"v":88.6},{"x":-0.3039,"y":-0.3824,"v":88.9},{"x":-0.2843,"y":-0.3824,"v":89},{"x":-0.2647,"y":-0.3824,"v":89},{"x":-0.2451,"y":-0.3824,"v":88.7},{"x":-0.2255,"y":-0.3824,"v":88.2},{"x":-0.2059,"y":-0.3824,"v":87.6},{"x":-0.1863,"y":-0.3824,"v":86.7},{"x":-0.1667,"y":-0.3824,"v":85.6},{"x":-0.1471,"y":-0.3824,"v":84.5},{"x":-0.1275,"y":-0.3824,"v":82.9},
{"x":0.049,"y":-0.3824,"v":81.8},{"x":0.0686,"y":-0.3824,"v":81.9},{"x":0.0882,"y":-0.3824,"v":82},{"x":0.1078,"y":-0.3824,"v":82},{"x":0.1275,"y":-0.3824,"v":81.9},{"x":0.1471,"y":-0.3824,"v":81.7},
{"x":-0.4412,"y":-0.402,"v":81.9},{"x":-0.4216,"y":-0.402,"v":83.2},{"x":-0.402,"y":-0.402,"v":84.7},{"x":-0.3824,"y":-0.402,"v":85.8},{"x":-0.3627,"y":-0.402,"v":86.6},{"x":-0.3431,"y":-0.402,"v":87.2},{"x":-0.3235,"y":-0.402,"v":87.7},{"x":-0.3039,"y":-0.402,"v":88.1},{"x":-0.2843,"y":-0.402,"v":88.2},{"x":-0.2647,"y":-0.402,"v":88.1},{"x":-0.2451,"y":-0.402,"v":87.7},{"x":-0.2255,"y":-0.402,"v":87.1},{"x":-0.2059,"y":-0.402,"v":86.6},{"x":-0.1863,"y":-0.402,"v":85.6},{"x":-0.1667,"y":-0.402,"v":84.4},{"x":-0.1471,"y":-0.402,"v":83.1},{"x":-0.1275,"y":-0.402,"v":81.8},
{"x":0.0294,"y":-0.402,"v":81.8},{"x":0.049,"y":-0.402,"v":82.1},{"x":0.0686,"y":-0.402,"v":82.3},{"x":0.0882,"y":-0.402,"v":82.3},{"x":0.1078,"y":-0.402,"v":82.2},{"x":0.1275,"y":-0.402,"v":82},{"x":0.1471,"y":-0.402,"v":81.7},
{"x":-0.4216,"y":-0.4216,"v":82.4},{"x":-0.402,"y":-0.4216,"v":83.7},{"x":-0.3824,"y":-0.4216,"v":85},{"x":-0.3627,"y":-0.4216,"v":85.8},{"x":-0.3431,"y":-0.4216,"v":86.4},{"x":-0.3235,"y":-0.4216,"v":86.9},{"x":-0.3039,"y":-0.4216,"v":87.2},{"x":-0.2843,"y":-0.4216,"v":87.3},{"x":-0.2647,"y":-0.4216,"v":87.2},{"x":-0.2451,"y":-0.4216,"v":86.9},{"x":-0.2255,"y":-0.4216,"v":86.3},{"x":-0.2059,"y":-0.4216,"v":85.3},{"x":-0.1863,"y":-0.4216,"v":84.2},{"x":-0.1667,"y":-0.4216,"v":82.9},
{"x":0.0098,"y":-0.4216,"v":81.8},{"x":0.0294,"y":-0.4216,"v":82.2},{"x":0.049,"y":-0.4216,"v":82.7},{"x":0.0686,"y":-0.4216,"v":82.7},{"x":0.0882,"y":-0.4216,"v":82.5},{"x":0.1078,"y":-0.4216,"v":82.5},{"x":0.1275,"y":-0.4216,"v":82},{"x":0.1471,"y":-0.4216,"v":81.7},
{"x":-0.402,"y":-0.4412,"v":82.6},{"x":-0.3824,"y":-0.4412,"v":83.8},{"x":-0.3627,"y":-0.4412,"v":84.8},{"x":-0.3431,"y":-0.4412,"v":85.3},{"x":-0.3235,"y":-0.4412,"v":85.7},{"x":-0.3039,"y":-0.4412,"v":85.9},{"x":-0.2843,"y":-0.4412,"v":86},{"x":-0.2647,"y":-0.4412,"v":85.8},{"x":-0.2451,"y":-0.4412,"v":85.4},{"x":-0.2255,"y":-0.4412,"v":84.6},{"x":-0.2059,"y":-0.4412,"v":83.7},{"x":-0.1863,"y":-0.4412,"v":82.5},
{"x":0.0098,"y":-0.4412,"v":82},{"x":0.0294,"y":-0.4412,"v":82.6},{"x":0.049,"y":-0.4412,"v":83.1},{"x":0.0686,"y":-0.4412,"v":83.1},{"x":0.0882,"y":-0.4412,"v":82.9},{"x":0.1078,"y":-0.4412,"v":82.5},{"x":0.1275,"y":-0.4412,"v":82},{"x":0.1471,"y":-0.4412,"v":81.7},
{"x":-0.402,"y":-0.4608,"v":81.9},{"x":-0.3824,"y":-0.4608,"v":82.8},{"x":-0.3627,"y":-0.4608,"v":83.6},{"x":-0.3431,"y":-0.4608,"v":84.3},{"x":-0.3235,"y":-0.4608,"v":84.7},{"x":-0.3039,"y":-0.4608,"v":84.9},{"x":-0.2843,"y":-0.4608,"v":84.7},{"x":-0.2647,"y":-0.4608,"v":84.3},{"x":-0.2451,"y":-0.4608,"v":83.7},{"x":-0.2255,"y":-0.4608,"v":82.8},{"x":-0.2059,"y":-0.4608,"v":81.9},
{"x":-0.0098,"y":-0.4608,"v":81.8},{"x":0.0098,"y":-0.4608,"v":82.5},{"x":0.0294,"y":-0.4608,"v":83},{"x":0.049,"y":-0.4608,"v":83.4},{"x":0.0686,"y":-0.4608,"v":83.4},{"x":0.0882,"y":-0.4608,"v":83.1},{"x":0.1078,"y":-0.4608,"v":82.5},{"x":0.1275,"y":-0.4608,"v":82},{"x":0.1471,"y":-0.4608,"v":81.7},
{"x":-0.3824,"y":-0.4804,"v":81.9},{"x":-0.3627,"y":-0.4804,"v":82.5},{"x":-0.3431,"y":-0.4804,"v":83.2},{"x":-0.3235,"y":-0.4804,"v":83.4},{"x":-0.3039,"y":-0.4804,"v":83.5},{"x":-0.2843,"y":-0.4804,"v":83.2},{"x":-0.2647,"y":-0.4804,"v":83},{"x":-0.2451,"y":-0.4804,"v":82.5},
{"x":-0.0098,"y":-0.4804,"v":82},{"x":0.0098,"y":-0.4804,"v":82.7},{"x":0.0294,"y":-0.4804,"v":83.2},{"x":0.049,"y":-0.4804,"v":83.6},{"x":0.0686,"y":-0.4804,"v":83.6},{"x":0.0882,"y":-0.4804,"v":83.2},{"x":0.1078,"y":-0.4804,"v":82.6},{"x":0.1275,"y":-0.4804,"v":82.1},{"x":0.1471,"y":-0.4804,"v":81.7},
{"x":-0.3627,"y":-0.5,"v":81.8},{"x":-0.3431,"y":-0.5,"v":82.3},{"x":-0.3235,"y":-0.5,"v":82.6},{"x":-0.3039,"y":-0.5,"v":82.6},{"x":-0.2843,"y":-0.5,"v":82.3},{"x":-0.2647,"y":-0.5,"v":81.9},{"x":-0.2451,"y":-0.5,"v":81.7},{"x":-0.2255,"y":-0.5,"v":81.7},
{"x":-0.0294,"y":-0.5,"v":81.8},{"x":-0.0098,"y":-0.5,"v":82.4},{"x":0.0098,"y":-0.5,"v":83},{"x":0.0294,"y":-0.5,"v":83.4},{"x":0.049,"y":-0.5,"v":83.7},{"x":0.0686,"y":-0.5,"v":83.7},{"x":0.0882,"y":-0.5,"v":83.2},{"x":0.1078,"y":-0.5,"v":82.7},{"x":0.1275,"y":-0.5,"v":82.1},{"x":0.1471,"y":-0.5,"v":81.7}
      ]},
      "layer": [
        {
          "mark": {"type": "rect", "clip": true},
          "encoding": {
            "x": {"field": "x", "type": "quantitative", "bin": {"binned": true, "step": 0.0212}, "scale": {"domain": [-0.5, 0.5], "nice": false}, "axis": {"values": [-0.4, -0.2, 0, 0.2, 0.4], "format": ".1f", "tickSize": -6, "labelPadding": 7}},
            "y": {"field": "y", "type": "quantitative", "bin": {"binned": true, "step": 0.0212}, "scale": {"domain": [-0.5, 0.5], "nice": false}, "axis": {"values": [-0.4, -0.2, 0, 0.2, 0.4], "format": ".1f", "tickSize": -6, "labelPadding": 14}},
            "color": {"field": "v", "type": "quantitative", "legend": null, "scale": {"interpolate": "rgb", "domain": [81.41, 82.51, 82.66, 84.82, 85.17, 87.82, 88.02, 90.33, 90.53, 91.43], "range": ["#00007f", "#0000ff", "#0000ff", "#00dbff", "#14ffe2", "#eeff08", "#ffec00", "#ff1300", "#e80000", "#7f0000"]}}
          }
        },
        {
          "mark": {"type": "rect", "opacity": 0},
          "encoding": {
            "x": {"field": "x", "type": "quantitative", "scale": {"domain": [-0.5, 0.5], "nice": false}, "axis": {"orient": "top", "values": [-0.4, -0.2, 0, 0.2, 0.4], "labels": false, "tickSize": -6}},
            "y": {"field": "y", "type": "quantitative", "scale": {"domain": [-0.5, 0.5], "nice": false}, "axis": {"orient": "right", "values": [-0.4, -0.2, 0, 0.2, 0.4], "labels": false, "tickSize": -6}}
          }
        }
      ],
      "resolve": {"axis": {"x": "independent", "y": "independent"}}
    },
    {
      "width": 24,
      "height": 478,
      "view": {"stroke": "black", "strokeWidth": 1},
      "data": {"values": [{"lo": 81.41, "hi": 91.43}]},
      "mark": {"type": "rect", "color": {"gradient": "linear", "x1": 0, "y1": 1, "x2": 0, "y2": 0, "stops": [
        {"offset": 0, "color": "#00007f"}, {"offset": 0.11, "color": "#0000ff"}, {"offset": 0.125, "color": "#0000ff"}, {"offset": 0.34, "color": "#00dbff"}, {"offset": 0.375, "color": "#14ffe2"}, {"offset": 0.64, "color": "#eeff08"}, {"offset": 0.66, "color": "#ffec00"}, {"offset": 0.89, "color": "#ff1300"}, {"offset": 0.91, "color": "#e80000"}, {"offset": 1, "color": "#7f0000"}
      ]}},
      "encoding": {
        "y": {"field": "lo", "type": "quantitative", "scale": {"domain": [81.41, 91.43], "nice": false}, "axis": {"orient": "right", "values": [82.5, 84, 85.5, 87, 88.5, 90], "format": ".1f", "tickSize": -6, "labelPadding": 11}},
        "y2": {"field": "hi"}
      }
    }
  ]
}
